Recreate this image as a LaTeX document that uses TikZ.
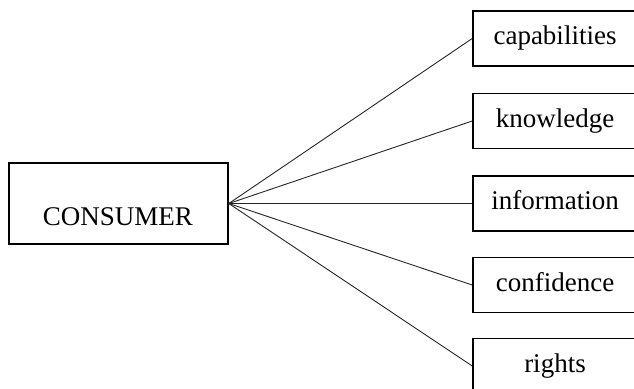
\documentclass[tikz,border=0pt]{standalone}
\usepackage{fontspec}
\setmainfont{Liberation Serif}
\begin{document}
\begin{tikzpicture}[x=1pt,y=-1pt,
  box/.style={draw, line width=1.6pt, inner sep=0pt},
  lab/.style={font=\fontsize{27}{32}\selectfont, text height=18.4pt, text depth=5.9pt, inner sep=0pt},
  item/.style={box, lab, minimum width=164pt, minimum height=55pt},
  conn/.style={line width=0.9pt, draw=black!85}]
\useasboundingbox (0,0) rectangle (634,388);
\clip (0,0) rectangle (634,388);
\node[box, minimum width=219pt, minimum height=81pt] (consumer) at (118.5,203.5) {};
\node[lab, anchor=base] (consumertext) at (118,225) {CONSUMER};
\node[item] (capabilities) at (555,38.5) {capabilities};
\node[item] (knowledge) at (555,121) {knowledge};
\node[item] (information) at (555,203.5) {information};
\node[item] (confidence) at (555,285) {confidence};
\node[item] (rights) at (555,366) {rights};
\foreach \n in {capabilities,knowledge,information,confidence,rights}
  \draw[conn] (consumer.east) -- (\n.west);
\end{tikzpicture}
\end{document}
